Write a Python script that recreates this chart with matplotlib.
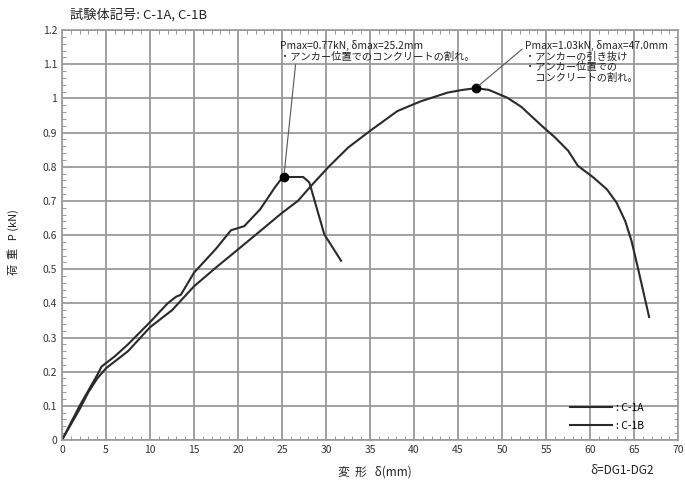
import matplotlib
matplotlib.use('Agg')
import matplotlib.pyplot as plt
from matplotlib.ticker import MultipleLocator, FuncFormatter

plt.rcParams['font.family'] = ['Noto Sans CJK JP', 'DejaVu Sans']

# 試験体 C-1A
d_1a = [0, 1, 2, 3, 4, 4.5, 5, 6, 7.5, 10, 12, 13, 13.5, 15, 17.5, 19.2, 20.7,
        22.5, 24.2, 24.9, 25.2, 27.4, 28.1, 29.8, 31.7]
p_1a = [0, 0.05, 0.1, 0.145, 0.19, 0.215, 0.225, 0.245, 0.28, 0.345, 0.40, 0.42,
        0.425, 0.49, 0.56, 0.614, 0.626, 0.675, 0.74, 0.764, 0.77, 0.77, 0.754,
        0.602, 0.525]

# 試験体 C-1B
d_1b = [0, 1, 2, 3, 4, 5, 7.5, 10, 12.5, 15, 17.5, 20, 23, 25, 26.8, 28.3, 30.3,
        32.5, 35, 38.1, 40.8, 43.8, 45.5, 47, 48.5, 50.6, 52.2, 54.5, 56, 57.5,
        58.6, 60.4, 61.9, 63, 64, 64.7, 65.4, 66.7]
p_1b = [0, 0.045, 0.09, 0.14, 0.18, 0.21, 0.26, 0.33, 0.38, 0.45, 0.505, 0.558,
        0.622, 0.665, 0.70, 0.744, 0.80, 0.856, 0.905, 0.963, 0.992, 1.017, 1.025,
        1.03, 1.025, 1.002, 0.975, 0.92, 0.886, 0.847, 0.803, 0.768, 0.734, 0.695,
        0.64, 0.583, 0.507, 0.36]

pmax_1a = (25.2, 0.77)
pmax_1b = (47.0, 1.03)

note_1a = 'Pmax=0.77kN, δmax=25.2mm\n・アンカー位置でのコンクリートの割れ。'
note_1b = ('Pmax=1.03kN, δmax=47.0mm\n・アンカーの引き抜け\n'
           '・アンカー位置での\n　コンクリートの割れ。')

fig = plt.figure(figsize=(6.85, 4.86), dpi=100)
ax = fig.add_axes([0.0905, 0.0947, 0.8995, 0.8433])

ax.plot(d_1a, p_1a, color='#2a2a2a', lw=1.5, label='C-1A')
ax.plot(d_1b, p_1b, color='#2a2a2a', lw=1.5, label='C-1B')
ax.plot(*pmax_1a, 'o', color='black', ms=6)
ax.plot(*pmax_1b, 'o', color='black', ms=6)

ax.set_xlim(0, 70)
ax.set_ylim(0, 1.2)
ax.xaxis.set_major_locator(MultipleLocator(5))
ax.yaxis.set_major_locator(MultipleLocator(0.1))
ax.xaxis.set_minor_locator(MultipleLocator(1))
ax.yaxis.set_minor_locator(MultipleLocator(0.02))
ax.yaxis.set_major_formatter(FuncFormatter(lambda v, _: f'{v:.1f}'.rstrip('0').rstrip('.')))
ax.grid(True, which='major', color='#9a9a9a', lw=1.3)
ax.tick_params(which='both', direction='in', top=True, right=True, colors='#888888',
               labelcolor='#333333', labelsize=7.5)
ax.tick_params(which='major', length=0)
ax.tick_params(which='minor', length=3)
for s in ax.spines.values():
    s.set_color('#999999')
    s.set_linewidth(1.2)

fig.text(70 / 685, 1 - 15 / 486, '試験体記号: C-1A, C-1B', fontsize=9.5,
         va='center', ha='left', color='#222222')
fig.text(13 / 685, 1 - 242 / 486, '荷  重   P (kN)', fontsize=8, rotation=90,
         va='center', ha='center', color='#222222')
fig.text(375 / 685, 1 - 472 / 486, '変  形   δ(mm)', fontsize=8.5,
         va='center', ha='center', color='#222222')
fig.text(622 / 685, 1 - 470 / 486, 'δ=DG1-DG2', fontsize=8.5,
         va='center', ha='center', color='#222222')

ax.annotate(note_1a, xy=pmax_1a, xytext=(24.8, 1.17), fontsize=7.4,
            va='top', ha='left', linespacing=1.05, color='#222222',
            arrowprops=dict(arrowstyle='-', color='#555555', lw=0.8,
                            shrinkA=0, shrinkB=3,
                            relpos=(0.08, 0.0)))
ax.annotate(note_1b, xy=pmax_1b, xytext=(52.6, 1.17), fontsize=7.4,
            va='top', ha='left', linespacing=1.05, color='#222222',
            arrowprops=dict(arrowstyle='-', color='#555555', lw=0.8,
                            shrinkA=0, shrinkB=3,
                            relpos=(0.0, 0.85)))

leg = ax.legend(loc='lower left', bbox_to_anchor=(0.81, 0.0), frameon=False,
                fontsize=7.5, handlelength=4, handletextpad=0.4, labelspacing=0.75)
for t in leg.get_texts():
    t.set_text(': ' + t.get_text())

fig.savefig('out.png', dpi=100)
